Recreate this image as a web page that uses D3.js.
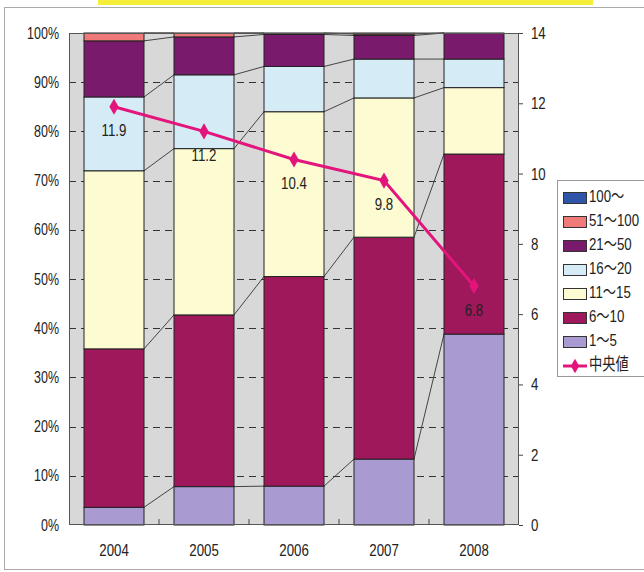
<!DOCTYPE html>
<html><head><meta charset="utf-8">
<script src="https://cdn.jsdelivr.net/npm/d3@7"></script>
<style>
html,body{margin:0;padding:0;background:#fff;}
text{font-family:"Liberation Sans","Noto Sans CJK JP",sans-serif;fill:#222;}
</style></head>
<body><svg id="c" width="644" height="572"></svg>
<script>
const years = ["2004","2005","2006","2007","2008"];
const seriesNames = ["1～5","6～10","11～15","16～20","21～50","51～100","100～"];
const s1_5   = [3.6, 7.8, 7.9, 13.4, 38.8];
const s6_10  = [32.2, 34.9, 42.6, 45.1, 36.6];
const s11_15 = [36.2, 33.8, 33.5, 28.3, 13.5];
const s16_20 = [15.0, 15.0, 9.2, 7.9, 5.8];
const s21_50 = [11.4, 7.7, 6.5, 4.8, 5.3];
const s51_100= [1.6, 0.8, 0.3, 0.3, 0];
const s100   = [0, 0, 0, 0.2, 0];
const median = [11.9, 11.2, 10.4, 9.8, 6.8];
const medianName = "中央値";
const leftTicks = [0,10,20,30,40,50,60,70,80,90,100];
const rightTicks = [0,2,4,6,8,10,12,14];

const colors = ["#a99bd2","#a0185c","#fdfbd2","#d5ebf6","#7a1a6c","#f07a7a","#2f55a8"];
const lineColor = "#e3157c";

const allSeries = [s1_5,s6_10,s11_15,s16_20,s21_50,s51_100,s100];
const table = years.map((yr,i)=>{const o={year:yr}; seriesNames.forEach((n,k)=>o[n]=allSeries[k][i]); return o;});
const stack = d3.stack().keys(seriesNames)(table);

const svg = d3.select("#c");
const L=69,R=519,T=33,B=525;
const x = d3.scaleBand().domain(years).range([L,R]).paddingInner(1/3).paddingOuter(1/6);
const y = d3.scaleLinear().domain([0,100]).range([B,T]);
const y2 = d3.scaleLinear().domain([0,14]).range([B,T]);
const bw = x.bandwidth();
const SX = 0.78;
function condense(sel){
  sel.each(function(){
    const t=d3.select(this);
    const tx=+t.attr("x")||0, ty=+t.attr("y")||0;
    t.attr("x",0).attr("y",0).attr("transform",`translate(${tx},${ty}) scale(${SX},1)`);
  });
}

// frame & title band
svg.append("rect").attr("x",98).attr("y",0).attr("width",495).attr("height",5).attr("fill","#f4ee3a");
svg.append("rect").attr("x",4.5).attr("y",7.5).attr("width",650).attr("height",562).attr("fill","none").attr("stroke","#aaa");

// plot background
svg.append("rect").attr("x",L).attr("y",T).attr("width",R-L).attr("height",B-T).attr("fill","#d8d8d8");

// grid
svg.append("g").selectAll("line").data(leftTicks.filter(d=>d>0&&d<100)).join("line")
  .attr("x1",L).attr("x2",R).attr("y1",d=>Math.round(y(d))+0.5).attr("y2",d=>Math.round(y(d))+0.5)
  .attr("stroke","#333").attr("stroke-dasharray","7,5");

// series lines
const conn = svg.append("g");
stack.forEach(layer=>{
  for(let i=0;i<years.length-1;i++){
    conn.append("line")
      .attr("x1",x(years[i])+bw).attr("y1",y(layer[i][1]))
      .attr("x2",x(years[i+1])).attr("y2",y(layer[i+1][1]))
      .attr("stroke","#444").attr("stroke-width",1);
  }
});

// bars
svg.append("g").selectAll("g").data(stack).join("g").attr("fill",(d,i)=>colors[i])
  .selectAll("rect").data(d=>d.filter(p=>p[1]-p[0]>0)).join("rect")
  .attr("x",d=>x(d.data.year)).attr("width",bw)
  .attr("y",d=>y(d[1])).attr("height",d=>y(d[0])-y(d[1]))
  .attr("stroke","#222").attr("stroke-width",1);

// plot border
svg.append("rect").attr("x",L+0.5).attr("y",T+0.5).attr("width",R-L-1).attr("height",B-T-1)
  .attr("fill","none").attr("stroke","#555");

// bottom ticks
const step = x.step();
svg.append("g").selectAll("line").data(years.slice(1)).join("line")
  .attr("x1",d=>x(d)-x.paddingInner()*step/2).attr("x2",d=>x(d)-x.paddingInner()*step/2)
  .attr("y1",B).attr("y2",B-6).attr("stroke","#444");

// axes
const la = svg.append("g").attr("transform",`translate(${L},0)`)
  .call(d3.axisLeft(y).tickValues(leftTicks).tickSize(0).tickPadding(10).tickFormat(d=>d+"%"));
la.select(".domain").remove();
la.selectAll("text").attr("font-size",16).attr("font-family",null).attr("fill","#222").call(condense);

const ra = svg.append("g").attr("transform",`translate(${R},0)`)
  .call(d3.axisRight(y2).tickValues(rightTicks).tickSize(4).tickPadding(8));
ra.select(".domain").remove();
ra.selectAll("line").attr("stroke","#444");
ra.selectAll("text").attr("font-size",17).attr("font-family",null).attr("fill","#222").call(condense);

const ba = svg.append("g").attr("transform",`translate(0,${B})`)
  .call(d3.axisBottom(x).tickSize(0).tickPadding(19));
ba.select(".domain").remove();
ba.selectAll("text").attr("font-size",17).attr("font-family",null).attr("fill","#222").call(condense);

// median line
const cx = d=>x(d)+bw/2;
svg.append("path").datum(median)
  .attr("d",d3.line().x((d,i)=>cx(years[i])).y(d=>y2(d)))
  .attr("fill","none").attr("stroke",lineColor).attr("stroke-width",3);
svg.append("g").selectAll("path").data(median).join("path")
  .attr("transform",(d,i)=>`translate(${cx(years[i])},${y2(d)})`)
  .attr("d",d3.symbol(d3.symbolDiamond,75)).attr("fill",lineColor);
svg.append("g").selectAll("text").data(median).join("text")
  .attr("x",(d,i)=>cx(years[i])).attr("y",d=>y2(d)+25)
  .attr("text-anchor","middle").attr("dominant-baseline","middle")
  .attr("font-size",17).text(d=>d3.format(".1f")(d)).call(condense);

// legend
const lg = svg.append("g");
lg.append("rect").attr("x",557.5).attr("y",180.5).attr("width",100).attr("height",196)
  .attr("fill","#fff").attr("stroke","#999");
const legendItems = seriesNames.map((n,i)=>({name:n,color:colors[i]})).reverse();
legendItems.forEach((it,i)=>{
  const yy = 198 + i*24;
  lg.append("rect").attr("x",563.5).attr("y",yy-5.5).attr("width",23).attr("height",11)
    .attr("fill",it.color).attr("stroke","#333");
  lg.append("text").attr("x",589).attr("y",yy).attr("dominant-baseline","middle")
    .attr("font-size",17).text(it.name).call(condense);
});
const my = 198 + 7*24;
lg.append("line").attr("x1",563).attr("x2",587).attr("y1",my).attr("y2",my).attr("stroke",lineColor).attr("stroke-width",3);
lg.append("path").attr("transform",`translate(575,${my})`).attr("d",d3.symbol(d3.symbolDiamond,60)).attr("fill",lineColor);
lg.append("text").attr("x",589).attr("y",my).attr("dominant-baseline","middle").attr("font-size",17).text(medianName).call(condense);
</script></body></html>
